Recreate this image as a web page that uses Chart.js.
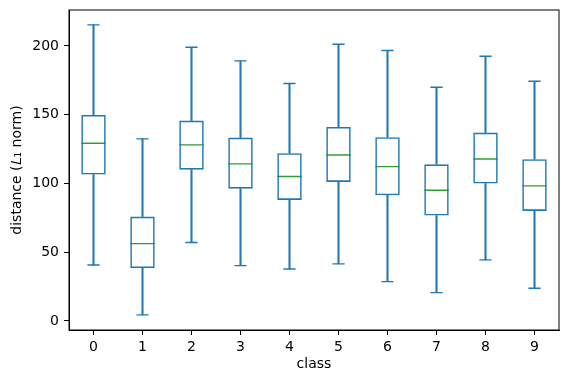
<!DOCTYPE html>
<html>
<head>
<meta charset="utf-8">
<script src="https://cdn.jsdelivr.net/npm/chart.js@4/dist/chart.umd.min.js"></script>
<style>
  html, body { margin: 0; padding: 0; background: #fff; }
  #wrap { width: 571px; height: 385px; }
</style>
</head>
<body>
<div id="wrap"><canvas id="box" width="571" height="385"></canvas></div>
<script>
// boxplot stats per class
const classes = ['0', '1', '2', '3', '4', '5', '6', '7', '8', '9'];
const whiskerLow  = [40.7, 4.4, 57.0, 40.2, 37.8, 41.5, 28.6, 20.6, 44.4, 23.8];
const q1          = [106.4, 38.5, 110.0, 96.2, 88.0, 101.1, 91.4, 76.6, 99.9, 80.0];
const median      = [129.2, 56.2, 128.0, 114.2, 105.0, 120.7, 112.2, 95.0, 117.8, 98.2];
const q3          = [149.8, 75.9, 145.7, 133.3, 122.0, 141.1, 133.6, 113.9, 137.0, 117.6];
const whiskerHigh = [215.3, 132.4, 199.0, 189.1, 172.6, 201.2, 196.6, 169.9, 192.5, 174.3];
const yTicks = [0, 50, 100, 150, 200];

const C0 = '#1f77b4';
const C2 = '#2ca02c';
const LW = 1.4;
const font = { family: 'DejaVu Sans', size: 14 };

// top and right spines
const frame = {
    id: 'frame',
    afterDraw(chart) {
        const { ctx, chartArea: a } = chart;
        ctx.save();
        ctx.strokeStyle = '#000';
        ctx.lineWidth = 1;
        ctx.strokeRect(a.left, a.top, a.right - a.left, a.bottom - a.top);
        ctx.restore();
    }
};

const whisker = (data) => ({
    type: 'bar', data, grouped: false, barThickness: LW,
    backgroundColor: C0, borderWidth: 0
});
const tick = (data, color, r) => ({
    type: 'line', data, showLine: false, pointStyle: 'line',
    pointRadius: r, pointHoverRadius: r, borderColor: color,
    pointBorderColor: color, pointBorderWidth: LW, pointHoverBorderWidth: LW
});

new Chart(document.getElementById('box'), {
    type: 'bar',
    data: {
        labels: classes,
        datasets: [
            whisker(whiskerLow.map((v, i) => [v, q1[i]])),
            whisker(q3.map((v, i) => [v, whiskerHigh[i]])),
            {
                type: 'bar',
                data: q1.map((v, i) => [v, q3[i]]),
                grouped: false,
                barPercentage: 0.5,
                categoryPercentage: 1,
                backgroundColor: 'rgba(0,0,0,0)',
                borderColor: C0,
                borderWidth: 1.6,
                borderSkipped: false
            },
            tick(whiskerLow, C0, 6.1),
            tick(whiskerHigh, C0, 6.1),
            tick(median, C2, 12.2)
        ]
    },
    options: {
        responsive: false,
        devicePixelRatio: 1,
        animation: false,
        events: [],
        layout: { autoPadding: false, padding: { top: 10, right: 12, left: 0, bottom: 0 } },
        plugins: { legend: { display: false }, tooltip: { enabled: false } },
        scales: {
            x: {
                offset: true,
                grid: { drawOnChartArea: false, drawTicks: true, tickLength: 5, color: '#000', offset: false },
                border: { display: true, color: '#000', width: 1 },
                ticks: { color: '#000', font, padding: 4, maxRotation: 0 },
                title: { display: true, text: 'class', color: '#000', font, padding: { top: 0, bottom: 12 } },
                afterFit(s) { s.height = 55; s.paddingLeft = 0; s.paddingRight = 0; }
            },
            y: {
                min: -6.6,
                max: 226.1,
                grid: { drawOnChartArea: false, drawTicks: true, tickLength: 5, color: '#000' },
                border: { display: true, color: '#000', width: 1 },
                ticks: {
                    color: '#000', font, padding: 5, includeBounds: false, stepSize: 50,
                    callback: (v) => yTicks.includes(v) ? String(v) : null
                },
                title: { display: true, text: 'distance (𝐿₁ norm)', color: '#000', font, padding: { top: 9, bottom: 0 } },
                afterFit(s) { s.width = 69; s.paddingTop = 0; s.paddingBottom = 0; }
            }
        }
    },
    plugins: [frame]
});
</script>
</body>
</html>
